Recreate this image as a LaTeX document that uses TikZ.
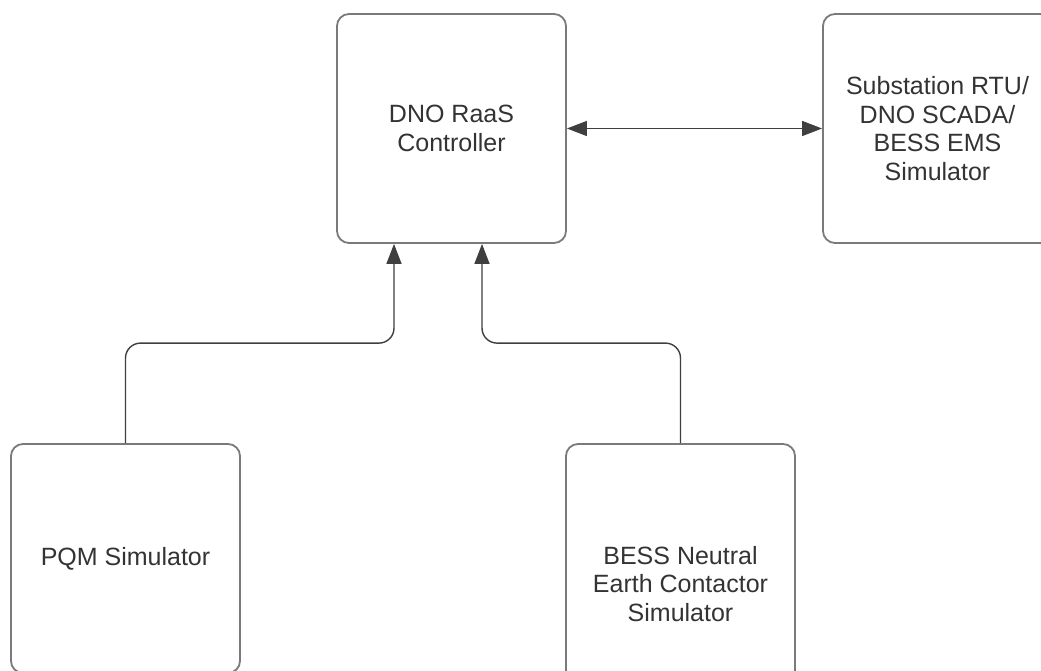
\documentclass[tikz,border=0pt]{standalone}
\usepackage{fontspec}
\setmainfont{Liberation Sans}
\usetikzlibrary{arrows.meta}
\usetikzlibrary{calc}

\definecolor{boxgray}{HTML}{7A7A7A}
\definecolor{linkgray}{HTML}{3F3F3F}
\definecolor{txtgray}{HTML}{333333}

\begin{document}
\begin{tikzpicture}[x=1pt,y=1pt,
    block/.style={draw=boxgray, line width=1.8pt, rounded corners=12pt,
        minimum width=229pt, minimum height=229pt, align=center,
        text=txtgray, font=\fontsize{25}{28.5}\selectfont},
    link/.style={draw=linkgray, line width=1.4pt, rounded corners=15pt,
        -{Triangle[length=20pt,width=15pt]}}]
    % --- Cadre de la figure ---
    \clip (0,0) rectangle (1041,670);

    % --- Blocs ---
    \node[block] (ctrl) at (451.5,541.5) {DNO RaaS\\Controller};
    \node[block] (subst) at (937.5,541.5) {Substation RTU/\\DNO SCADA/\\BESS EMS\\Simulator};
    \node[block] (pqm) at (125.5,111.5) {PQM Simulator};
    \node[block, minimum height=280pt] (nec) at (680.5,86) {BESS Neutral\\Earth Contactor\\Simulator};

    % --- Points d'arrivée sous le contrôleur ---
    \coordinate (in1) at ([xshift=-57.5pt]ctrl.south);
    \coordinate (in2) at ([xshift=30.5pt]ctrl.south);

    % --- Liaisons ---
    \draw[link] (pqm.north) -- ++(0,100) -| (in1);
    \draw[link] (nec.north) -- ++(0,100) -| (in2);
    \draw[link, {Triangle[length=20pt,width=15pt]}-{Triangle[length=20pt,width=15pt]}]
        (ctrl.east) -- (subst.west);

\end{tikzpicture}
\end{document}
